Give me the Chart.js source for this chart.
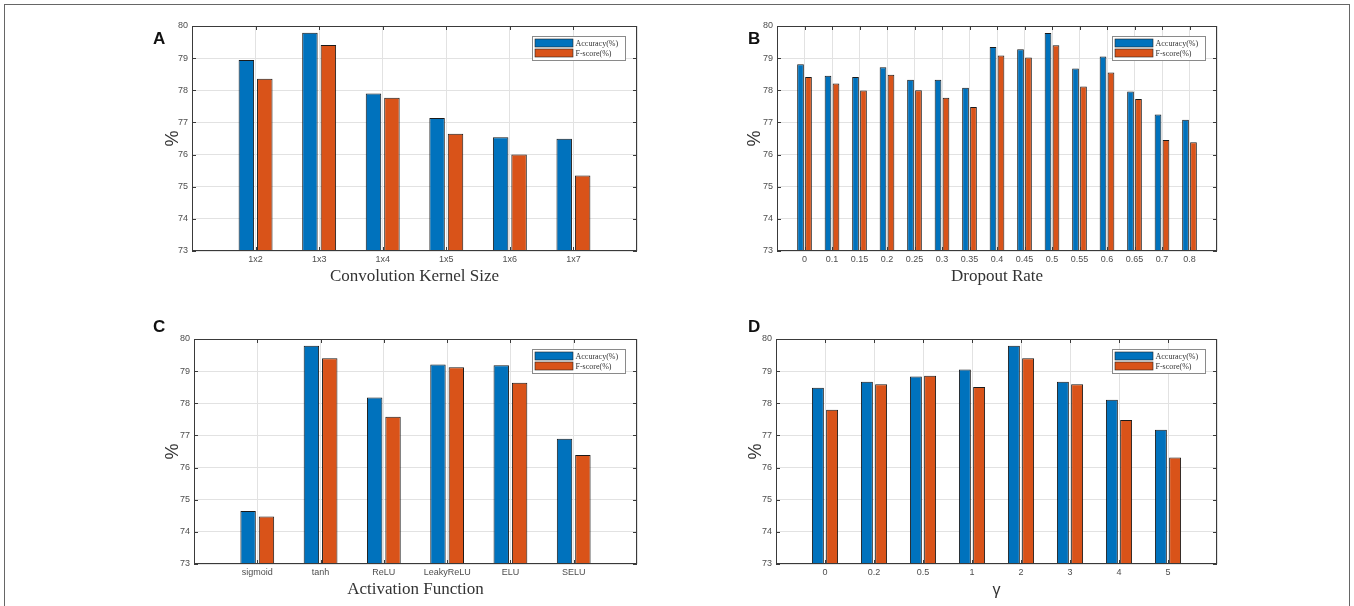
<!DOCTYPE html>
<html>
<head>
<meta charset="utf-8">
<script src="https://cdn.jsdelivr.net/npm/chart.js@4.4.1/dist/chart.umd.min.js"></script>
<style>
  html, body { margin: 0; padding: 0; background: #fff; width: 1354px; height: 606px; overflow: hidden; }
  #frame { position: absolute; left: 4px; top: 4px; width: 1346px; height: 640px; border: 1.5px solid #666; box-sizing: border-box; }
  canvas { position: absolute; }
  .tag { position: absolute; font: bold 17px "Liberation Sans", Arial, sans-serif; line-height: 17px; color: #111; }
</style>
</head>
<body>
<div id="frame"></div>
<canvas id="cA" width="530" height="280" style="left:150px;top:15px"></canvas>
<canvas id="cB" width="525" height="280" style="left:735px;top:15px"></canvas>
<canvas id="cC" width="528" height="280" style="left:152px;top:328px"></canvas>
<canvas id="cD" width="526" height="280" style="left:734px;top:328px"></canvas>
<div class="tag" style="left:153px;top:30px">A</div>
<div class="tag" style="left:748px;top:30px">B</div>
<div class="tag" style="left:153px;top:318px">C</div>
<div class="tag" style="left:748px;top:318px">D</div>
<script>
/* ---- data ---- */
const seriesNames = ['Accuracy(%)', 'F-score(%)'];
const yTicks = [73, 74, 75, 76, 77, 78, 79, 80];

const kernelSizes = ['1x2', '1x3', '1x4', '1x5', '1x6', '1x7'];
const kernelAcc   = [78.94, 79.79, 77.90, 77.14, 76.54, 76.49];
const kernelF1    = [78.36, 79.41, 77.77, 76.65, 76.00, 75.35];

const dropoutRates = ['0', '0.1', '0.15', '0.2', '0.25', '0.3', '0.35', '0.4', '0.45', '0.5', '0.55', '0.6', '0.65', '0.7', '0.8'];
const dropoutAcc   = [78.81, 78.45, 78.41, 78.72, 78.33, 78.33, 78.08, 79.35, 79.28, 79.78, 78.68, 79.05, 77.96, 77.25, 77.08];
const dropoutF1    = [78.41, 78.21, 77.99, 78.48, 78.00, 77.77, 77.48, 79.08, 79.02, 79.40, 78.12, 78.55, 77.73, 76.45, 76.38];

const activations   = ['sigmoid', 'tanh', 'ReLU', 'LeakyReLU', 'ELU', 'SELU'];
const activationAcc = [74.65, 79.79, 78.18, 79.21, 79.18, 76.90];
const activationF1  = [74.48, 79.40, 77.58, 79.12, 78.64, 76.39];

const gammas   = ['0', '0.2', '0.5', '1', '2', '3', '4', '5'];
const gammaAcc = [78.48, 78.67, 78.83, 79.05, 79.79, 78.67, 78.11, 77.18];
const gammaF1  = [77.80, 78.59, 78.86, 78.51, 79.40, 78.59, 77.48, 76.31];

/* ---- styling ---- */
const BLUE = '#0072BD';
const ORANGE = '#D95319';
const AXIS = '#3a3a3a';
const GRID = '#e2e2e2';

// empty slot at each end so the axis runs from 0 to n+1 like the MATLAB plot
const padLabels = a => ['', ...a, ''];
const padData = a => [null, ...a, null];

/* box around the plot area with inward tick marks on all four sides */
const boxTicks = {
  id: 'boxTicks',
  afterDatasetsDraw(chart) {
    const { ctx, chartArea: a, scales: { x, y } } = chart;
    ctx.save();
    ctx.strokeStyle = AXIS;
    ctx.lineWidth = 1;
    ctx.strokeRect(Math.round(a.left) + 0.5, Math.round(a.top) + 0.5, Math.round(a.width) - 1, Math.round(a.height) - 1);
    ctx.beginPath();
    x.ticks.forEach((t, i) => {
      if (!x.getLabelForValue(i)) return;
      const px = Math.round(x.getPixelForTick(i)) + 0.5;
      ctx.moveTo(px, a.bottom); ctx.lineTo(px, a.bottom - 4);
      ctx.moveTo(px, a.top); ctx.lineTo(px, a.top + 4);
    });
    y.ticks.forEach((t, i) => {
      const py = Math.round(y.getPixelForTick(i)) + 0.5;
      ctx.moveTo(a.left, py); ctx.lineTo(a.left + 4, py);
      ctx.moveTo(a.right, py); ctx.lineTo(a.right - 4, py);
    });
    ctx.stroke();
    ctx.restore();
  }
};

/* MATLAB-style legend box in the upper right corner */
const cornerLegend = {
  id: 'cornerLegend',
  afterDraw(chart) {
    const { ctx, chartArea: a } = chart;
    const w = 93, h = 24;
    const bx = Math.round(a.right - 12 - w) + 0.5;
    const by = Math.round(a.top + 10) + 0.5;
    ctx.save();
    ctx.fillStyle = '#fff';
    ctx.fillRect(bx, by, w, h);
    ctx.strokeStyle = '#8a8a8a';
    ctx.lineWidth = 1;
    ctx.strokeRect(bx, by, w, h);
    ctx.font = '8px "Liberation Serif", "Times New Roman", serif';
    ctx.textBaseline = 'middle';
    chart.data.datasets.forEach((ds, i) => {
      const sy = by + 2.5 + i * 10;
      ctx.fillStyle = ds.backgroundColor;
      ctx.fillRect(bx + 2.5, sy, 38, 8);
      ctx.strokeStyle = '#222';
      ctx.lineWidth = 0.6;
      ctx.strokeRect(bx + 2.5, sy, 38, 8);
      ctx.fillStyle = '#333';
      ctx.fillText(ds.label, bx + 43, sy + 4.5);
    });
    ctx.restore();
  }
};

function makePanel(id, cats, acc, f1, xTitle, xTitleFont, yTitlePad) {
  const barStyle = { borderColor: '#1a1a1a', borderWidth: 1, borderSkipped: false, categoryPercentage: 0.58, barPercentage: 0.84 };
  new Chart(document.getElementById(id), {
    type: 'bar',
    data: {
      labels: padLabels(cats),
      datasets: [
        { label: seriesNames[0], data: padData(acc), backgroundColor: BLUE, ...barStyle },
        { label: seriesNames[1], data: padData(f1), backgroundColor: ORANGE, ...barStyle }
      ]
    },
    options: {
      responsive: false,
      animation: false,
      events: [],
      layout: { padding: { left: 0, top: 11, right: 43, bottom: 0 } },
      plugins: { legend: { display: false }, tooltip: { enabled: false } },
      scales: {
        x: {
          type: 'category',
          offset: false,
          grid: { offset: false, color: GRID, drawTicks: false },
          border: { display: false },
          ticks: { autoSkip: false, maxRotation: 0, padding: 3, color: '#4d4d4d', font: { family: 'Liberation Sans', size: 9 } },
          title: { display: true, text: xTitle, color: '#333', font: xTitleFont, padding: { top: 0, bottom: 8 } },
          afterFit: s => { s.height = 44; }
        },
        y: {
          min: yTicks[0],
          max: yTicks[yTicks.length - 1],
          grid: { color: GRID, drawTicks: false },
          border: { display: false },
          ticks: { stepSize: 1, padding: 4, color: '#4d4d4d', font: { family: 'Liberation Sans', size: 9 } },
          title: { display: true, text: '%', color: '#333', font: { family: 'Liberation Sans', size: 18 }, padding: { top: yTitlePad, bottom: 0 } },
          afterFit: s => { s.width = 42; }
        }
      }
    },
    plugins: [boxTicks, cornerLegend]
  });
}

const serif = { family: 'Liberation Serif', size: 17 };
makePanel('cA', kernelSizes, kernelAcc, kernelF1, 'Convolution Kernel Size', serif, 12);
makePanel('cB', dropoutRates, dropoutAcc, dropoutF1, 'Dropout Rate', serif, 9);
makePanel('cC', activations, activationAcc, activationF1, 'Activation Function', serif, 10);
makePanel('cD', gammas, gammaAcc, gammaF1, 'γ', { family: 'Liberation Sans', size: 16 }, 11);
</script>
</body>
</html>
